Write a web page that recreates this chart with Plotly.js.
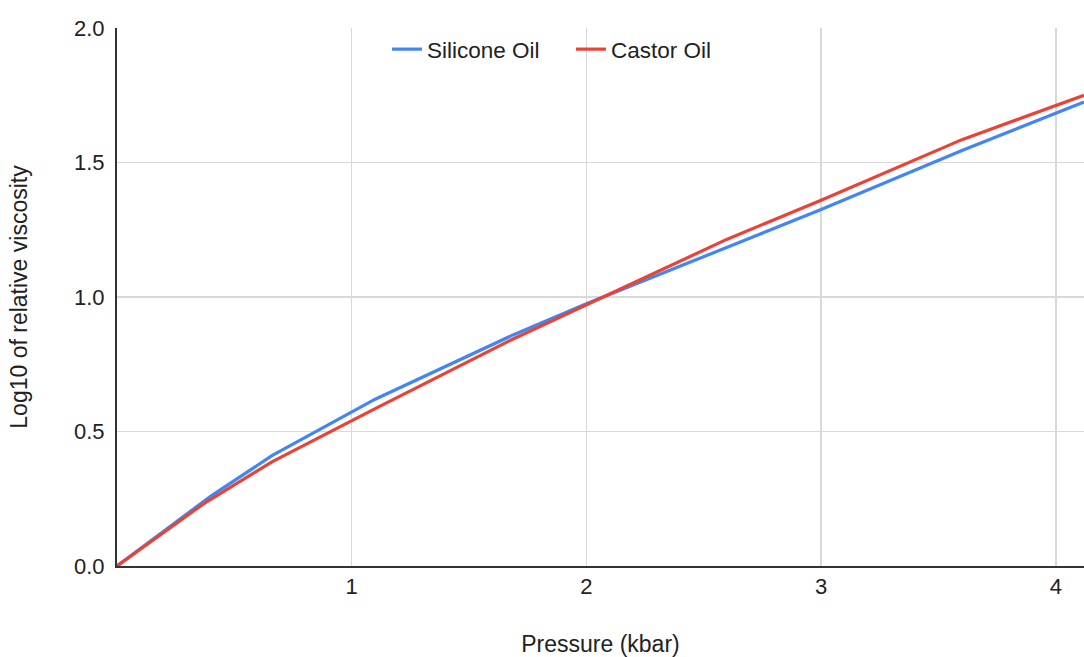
<!DOCTYPE html>
<html>
<head>
<meta charset="utf-8">
<script src="https://cdn.plot.ly/plotly-3.0.1.min.js"></script>
<style>html,body{margin:0;padding:0;background:#fff;}#chart{width:1084px;height:657px;}</style>
</head>
<body>
<div id="chart"></div>
<script>
// Pressure (kbar) and log10 relative viscosity
const siliconePressure = [0, 0.40, 0.66, 1.10, 1.69, 2.00, 3.00, 3.60, 4.12];
const siliconeLogVisc  = [0, 0.26, 0.41, 0.62, 0.86, 0.975, 1.325, 1.545, 1.725];
const castorPressure   = [0, 0.37, 0.66, 1.10, 1.69, 2.00, 2.60, 3.00, 3.60, 4.12];
const castorLogVisc    = [0, 0.232, 0.387, 0.585, 0.845, 0.97, 1.215, 1.36, 1.585, 1.75];
const xTicks = [1, 2, 3, 4];
const yTicks = [0, 0.5, 1.0, 1.5, 2.0];

const font = "'Liberation Sans', Arial, sans-serif";
const traces = [
  {x: siliconePressure, y: siliconeLogVisc, name: 'Silicone Oil', mode: 'lines',
   line: {color: '#4285F4', width: 3.2}},
  {x: castorPressure, y: castorLogVisc, name: 'Castor Oil', mode: 'lines',
   line: {color: '#EA4335', width: 3.2}}
];
const layout = {
  width: 1084, height: 657,
  margin: {l: 117, r: 0, t: 28, b: 91},
  paper_bgcolor: '#fff', plot_bgcolor: '#fff',
  font: {family: font, size: 22, color: '#222'},
  showlegend: true,
  legend: {orientation: 'h', x: 0.2792, xanchor: 'left', y: 1.0, yanchor: 'top',
           entrywidth: 139, entrywidthmode: 'pixels',
           font: {family: font, size: 22.5, color: '#222'}, bgcolor: 'rgba(0,0,0,0)'},
  xaxis: {range: [0, 4.12], tickvals: xTicks, ticktext: xTicks.map(String),
          showgrid: true, gridcolor: '#d9d9d9', gridwidth: 1.5, zeroline: false,
          showline: true, linecolor: '#333', linewidth: 2, ticks: '',
          tickfont: {family: font, size: 22, color: '#222'},
          title: {text: 'Pressure (kbar)', font: {family: font, size: 23, color: '#222'}, standoff: 40}},
  yaxis: {range: [0, 2], tickvals: yTicks, ticktext: yTicks.map(v => v.toFixed(1)),
          showgrid: true, gridcolor: '#d9d9d9', gridwidth: 1.5, zeroline: false,
          showline: true, linecolor: '#333', linewidth: 2, ticks: '',
          ticklabelstandoff: 6,
          tickfont: {family: font, size: 22, color: '#222'},
          title: {text: 'Log10 of relative viscosity', font: {family: font, size: 23, color: '#222'}, standoff: 40}}
};
Plotly.newPlot('chart', traces, layout, {displayModeBar: false, staticPlot: true});
</script>
</body>
</html>
